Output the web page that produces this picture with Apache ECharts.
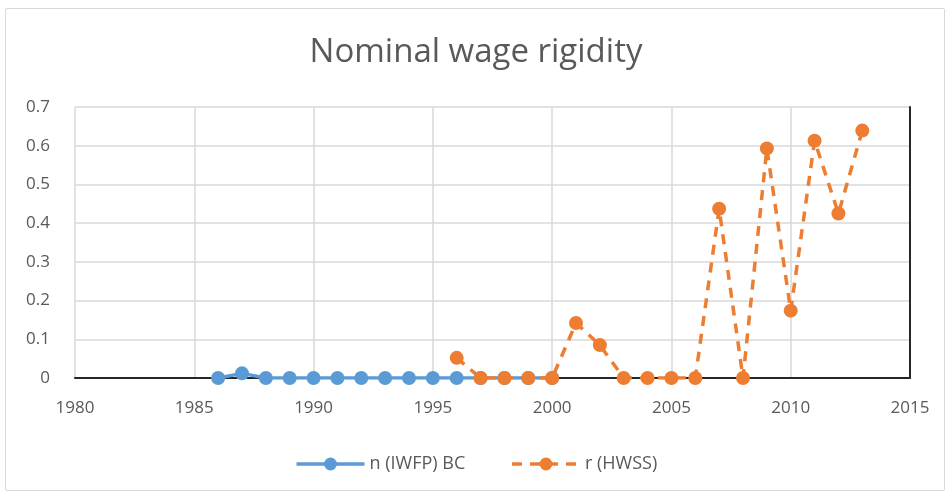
<!DOCTYPE html>
<html>
<head>
<meta charset="utf-8">
<script src="https://cdn.jsdelivr.net/npm/echarts@6/dist/echarts.min.js"></script>
<style>
  html, body { margin: 0; padding: 0; background: #fff; }
  #frame { position: absolute; left: 5px; top: 8px; width: 938px; height: 481px; border: 1px solid #d9d9d9; border-radius: 2px; }
  #chart { width: 952px; height: 497px; }
</style>
</head>
<body>
<div id="frame"></div>
<div id="chart"></div>
<script>
// years and values
const yearsIWFP = [1986, 1987, 1988, 1989, 1990, 1991, 1992, 1993, 1994, 1995, 1996, 1997, 1998, 1999, 2000]
const valuesIWFP = [0, 0.012, 0, 0, 0, 0, 0, 0, 0, 0, 0, 0, 0, 0, 0]
const yearsHWSS = [1996, 1997, 1998, 1999, 2000, 2001, 2002, 2003, 2004, 2005, 2006, 2007, 2008, 2009, 2010, 2011, 2012, 2013]
const valuesHWSS = [0.052, 0, 0, 0, 0, 0.142, 0.085, 0, 0, 0, 0, 0.437, 0, 0.593, 0.174, 0.613, 0.425, 0.639]
const seriesNames = ['n (IWFP) BC', 'r (HWSS)']

const pair = (xs, ys) => xs.map((x, i) => [x, ys[i]])

const chart = echarts.init(document.getElementById('chart'))
chart.setOption({
  animation: false,
  textStyle: { fontFamily: 'Open Sans' },
  title: {
    text: 'Nominal wage rigidity',
    left: 'center',
    top: 31,
    textStyle: { fontSize: 33, fontWeight: 'normal', color: '#595959', fontFamily: 'Open Sans' }
  },
  legend: {
    bottom: 19,
    left: 'center',
    itemWidth: 68,
    itemHeight: 16,
    itemGap: 45,
    textStyle: { fontSize: 18, color: '#595959' },
    lineStyle: { width: 3.5 },
    data: seriesNames
  },
  grid: { left: 75, right: 42, top: 107, bottom: 119 },
  xAxis: [
    {
      type: 'value',
      min: 1980, max: 2015, interval: 5,
      axisLine: { lineStyle: { color: '#a6a6a6', width: 1.5 } },
      axisTick: { show: false },
      axisLabel: { fontSize: 17, color: '#595959', margin: 22, formatter: v => String(v) },
      splitLine: { show: true, lineStyle: { color: '#d9d9d9', width: 1.5 } }
    },
    {
      type: 'value', position: 'top',
      min: 1980, max: 2015,
      axisLine: { show: true, lineStyle: { color: '#262626', width: 2 } },
      axisTick: { show: false }, axisLabel: { show: false }, splitLine: { show: false }
    }
  ],
  yAxis: [
    {
      type: 'value',
      min: 0, max: 0.7, interval: 0.1,
      axisLine: { show: false },
      axisTick: { show: false },
      axisLabel: { fontSize: 17, color: '#595959', margin: 25, formatter: v => String(+v.toFixed(1)) },
      splitLine: { lineStyle: { color: '#d9d9d9', width: 1.5 } }
    },
    {
      type: 'value', position: 'right',
      min: 0, max: 0.7,
      axisLine: { show: true, lineStyle: { color: '#262626', width: 2 } },
      axisTick: { show: false }, axisLabel: { show: false }, splitLine: { show: false }
    }
  ],
  series: [
    {
      name: seriesNames[0],
      type: 'line',
      data: pair(yearsIWFP, valuesIWFP),
      symbol: 'circle',
      symbolSize: 14,
      itemStyle: { color: '#5b9bd5' },
      lineStyle: { color: '#5b9bd5', width: 3.5 }
    },
    {
      name: seriesNames[1],
      type: 'line',
      data: pair(yearsHWSS, valuesHWSS),
      symbol: 'circle',
      symbolSize: 14,
      itemStyle: { color: '#ed7d31' },
      lineStyle: { color: '#ed7d31', width: 3.5, type: [10, 8] }
    }
  ]
})
</script>
</body>
</html>
